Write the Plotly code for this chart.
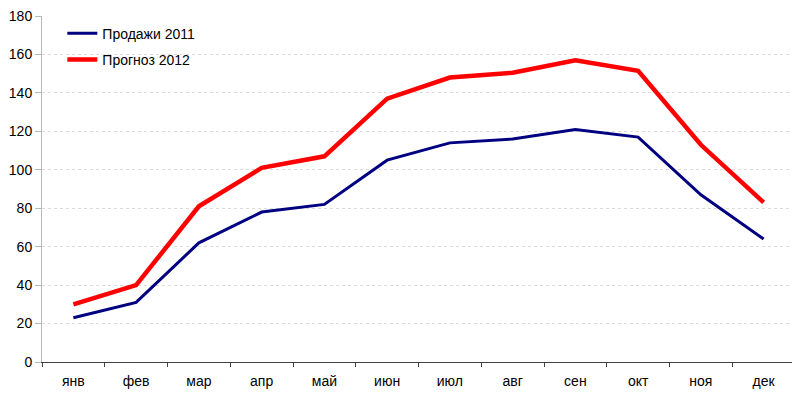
import plotly.graph_objects as go

months = ["янв", "фев", "мар", "апр", "май", "июн", "июл", "авг", "сен", "окт", "ноя", "дек"]
sales_2011 = [23, 31, 62, 78, 82, 105, 114, 116, 121, 117, 87, 64]
forecast_2012 = [30, 40, 81, 101, 107, 137, 148, 150.5, 157, 151.5, 113, 83]
y_ticks = [0, 20, 40, 60, 80, 100, 120, 140, 160, 180]

fig = go.Figure()
fig.add_trace(go.Scatter(x=months, y=sales_2011, mode="lines", name="Продажи 2011",
                         legendgroup="a", line=dict(color="#000080", width=3)))
fig.add_trace(go.Scatter(x=months, y=forecast_2012, mode="lines", name="Прогноз 2012",
                         legendgroup="b", line=dict(color="#FF0000", width=4.5)))

fig.update_layout(
    width=800, height=399,
    margin=dict(l=34, r=13, t=8, b=45),
    plot_bgcolor="white", paper_bgcolor="white",
    font=dict(family="Liberation Sans, Arial", size=14, color="black"),
    showlegend=True,
    legend=dict(x=0.027, y=0.995, xanchor="left", yanchor="top",
                bgcolor="rgba(0,0,0,0)", font=dict(size=14), tracegroupgap=5,
                itemwidth=30),
    xaxis=dict(type="category", showgrid=False, showline=True, linecolor="#404040", linewidth=1,
               ticks="outside", tickson="boundaries", ticklen=4, tickcolor="#404040",
               range=[-0.5, 11.5], tickfont=dict(size=14), ticklabelstandoff=6),
    yaxis=dict(range=[0, 180], tickvals=y_ticks, showgrid=True, gridcolor="#dcdcdc",
               griddash="dot", gridwidth=1, showline=True, linecolor="#b8b8b8",
               ticks="outside", ticklen=6, tickcolor="#b8b8b8", zeroline=False,
               tickfont=dict(size=14), automargin=False, ticklabeloverflow="allow"),
)

fig.write_html("out.html")
